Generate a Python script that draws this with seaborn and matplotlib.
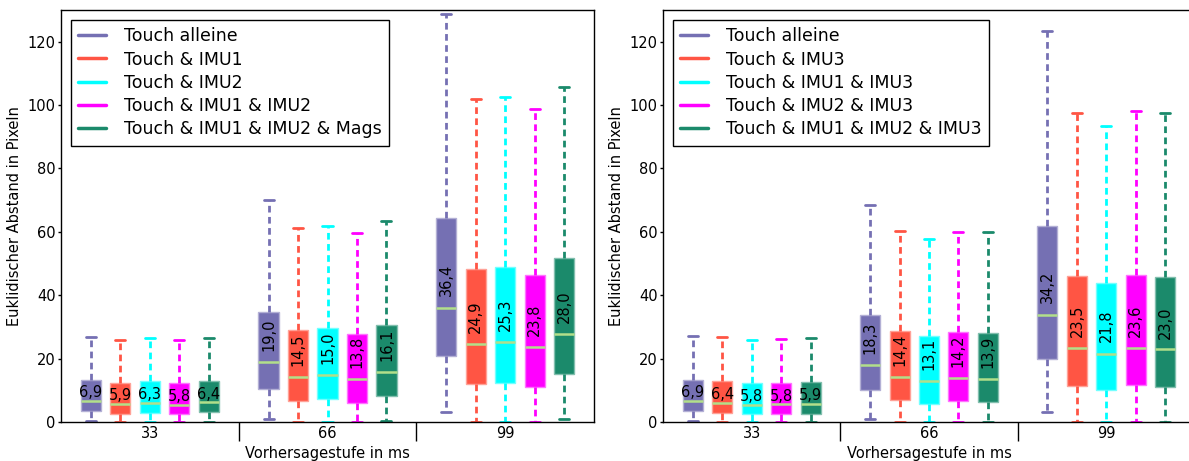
import numpy as np
import pandas as pd
import seaborn as sns
import matplotlib as mpl
from matplotlib import pyplot as plt
from matplotlib.lines import Line2D
from matplotlib.colors import to_rgb

# ---- data (box stats per series, one value per delay) ----
delays = ["33", "66", "99"]

left_series = ["Touch alleine", "Touch & IMU1", "Touch & IMU2",
               "Touch & IMU1 & IMU2", "Touch & IMU1 & IMU2 & Mags"]
left_whislo = [[0.2, 1.0, 3.2], [0.0, 0.1, 0.0], [0.0, 0.0, 0.0], [0.0, 0.0, 0.0], [0.1, 0.2, 1.1]]
left_q1 = [[3.4, 10.3, 20.8], [2.5, 6.6, 11.9], [2.9, 7.2, 12.3], [2.4, 6.1, 11.1], [3.1, 8.2, 15.0]]
left_med = [[6.5, 18.8, 36.1], [5.6, 14.2, 24.6], [6.0, 14.9, 25.1], [5.5, 13.6, 23.6], [6.2, 15.8, 27.8]]
left_q3 = [[13.2, 34.6, 64.4], [12.3, 28.9, 48.3], [12.9, 29.6, 48.8], [12.3, 27.9, 46.5], [12.9, 30.6, 51.6]]
left_whishi = [[26.7, 70.2, 128.7], [25.8, 61.1, 101.8], [26.6, 62.0, 102.4], [25.8, 59.6, 98.7], [26.6, 63.3, 105.6]]
left_mean = [[6.9, 19.0, 36.4], [5.9, 14.5, 24.9], [6.3, 15.0, 25.3], [5.8, 13.8, 23.8], [6.4, 16.1, 28.0]]

right_series = ["Touch alleine", "Touch & IMU3", "Touch & IMU1 & IMU3",
                "Touch & IMU2 & IMU3", "Touch & IMU1 & IMU2 & IMU3"]
right_whislo = [[0.2, 1.0, 3.0], [0.0, 0.0, 0.0], [0.0, 0.0, 0.0], [0.0, 0.0, 0.0], [0.1, 0.0, 0.0]]
right_q1 = [[3.5, 10.1, 19.8], [2.9, 6.9, 11.5], [2.4, 5.8, 10.2], [2.5, 6.6, 11.6], [2.5, 6.4, 11.0]]
right_med = [[6.5, 18.1, 33.9], [6.1, 14.1, 23.3], [5.5, 12.9, 21.5], [5.6, 13.8, 23.4], [5.7, 13.6, 22.9]]
right_q3 = [[13.4, 33.9, 61.7], [12.9, 28.7, 46.2], [12.2, 27.1, 43.9], [12.3, 28.5, 46.5], [12.5, 28.2, 45.9]]
right_whishi = [[27.1, 68.5, 123.5], [26.7, 60.3, 97.4], [26.0, 57.6, 93.5], [26.3, 60.1, 98.0], [26.6, 59.9, 97.4]]
right_mean = [[6.9, 18.3, 34.2], [6.4, 14.4, 23.5], [5.8, 13.1, 21.8], [5.8, 14.2, 23.6], [5.9, 13.9, 23.0]]

colors = ["#7570b3", "#ff5544", "#00ffff", "#ff00ff", "#1b8a6b"]
median_color = "#b2df8a"

BOX_WIDTH = 0.83
GAP = 0.32


def build_frame(series, lo, q1, med, q3, hi):
    # five values per cell -> quartiles land exactly on q1/med/q3, whiskers on min/max
    rows = []
    for s, name in enumerate(series):
        for d, delay in enumerate(delays):
            for v in (lo[s][d], q1[s][d], med[s][d], q3[s][d], hi[s][d]):
                rows.append({"delay": delay, "series": name, "value": v})
    return pd.DataFrame(rows)


def lighten(c, amount=0.45):
    r, g, b = to_rgb(c)
    return (r + (1 - r) * amount, g + (1 - g) * amount, b + (1 - b) * amount)


def draw_panel(ax, series, lo, q1, med, q3, hi, means):
    df = build_frame(series, lo, q1, med, q3, hi)
    sns.boxplot(data=df, x="delay", y="value", hue="series", order=delays,
                hue_order=series, palette=colors, whis=(0, 100), width=BOX_WIDTH,
                gap=GAP, fliersize=0, legend=False, ax=ax, linewidth=1.5)

    for c, cont in zip(colors, ax.containers):
        for box in cont.boxes:
            box.set_facecolor(c)
            box.set_edgecolor(lighten(c))
            box.set_linewidth(1.0)
        for m in cont.medians:
            m.set_color(median_color)
            m.set_linewidth(1.8)
        for w in cont.whiskers:
            w.set_color(c)
            w.set_linewidth(2.0)
            w.set_linestyle((0, (2.4, 1.6)))
        for cap in cont.caps:
            cap.set_color(c)
            cap.set_linewidth(2.0)

    n = len(series)
    step = BOX_WIDTH / n
    for s in range(n):
        for d in range(len(delays)):
            x = d + (s - (n - 1) / 2) * step
            txt = f"{means[s][d]:.1f}".replace(".", ",")
            if d == 0:
                ax.annotate(txt, (x, means[s][d]), xytext=(0, 0), textcoords="offset points",
                            ha="center", va="bottom", fontsize=10.5, color="black")
            else:
                ax.annotate(txt, (x, means[s][d]), xytext=(0, 7.5), textcoords="offset points",
                            ha="center", va="bottom", rotation=90, fontsize=10.5, color="black")

    ax.set_xlim(-0.5, len(delays) - 0.5)
    ax.set_ylim(0, 130)
    ax.set_yticks(np.arange(0, 121, 20))
    ax.set_xlabel("Vorhersagestufe in ms", fontsize=10.5, labelpad=0)
    ax.set_ylabel("Euklidischer Abstand in Pixeln", fontsize=10.5, labelpad=4)

    ax.tick_params(axis="x", which="major", bottom=True, length=0, pad=3, labelsize=10.5)
    ax.set_xticks([0.5, 1.5], minor=True)
    ax.tick_params(axis="x", which="minor", bottom=True, length=14, width=1,
                   direction="out", color="black")
    ax.tick_params(axis="y", left=True, length=2.5, width=1, direction="out",
                   color="black", labelsize=10.5, pad=1.5)
    for sp in ax.spines.values():
        sp.set_visible(True)
        sp.set_color("black")
        sp.set_linewidth(1)

    handles = [Line2D([], [], color=c, lw=2.5) for c in colors]
    leg = ax.legend(handles, series, loc="upper left", fontsize=12.5, frameon=True,
                    fancybox=False, framealpha=1, edgecolor="black", handlelength=1.6,
                    handletextpad=1.0, labelspacing=0.3, borderpad=0.45,
                    borderaxespad=0.55)
    leg.get_frame().set_linewidth(1)


sns.set_style("white")
plt.rcParams["font.family"] = ["DejaVu Sans"]
plt.rcParams.update({"text.color": "black", "axes.labelcolor": "black",
                     "xtick.color": "black", "ytick.color": "black"})

fig = plt.figure(figsize=(11.89, 4.61), dpi=100)
ax1 = fig.add_axes([61 / 1189, 39 / 461, 533 / 1189, 412 / 461])
ax2 = fig.add_axes([663 / 1189, 39 / 461, 532 / 1189, 412 / 461])

draw_panel(ax1, left_series, left_whislo, left_q1, left_med, left_q3, left_whishi, left_mean)
draw_panel(ax2, right_series, right_whislo, right_q1, right_med, right_q3, right_whishi, right_mean)

fig.savefig("out.png", dpi=100)
